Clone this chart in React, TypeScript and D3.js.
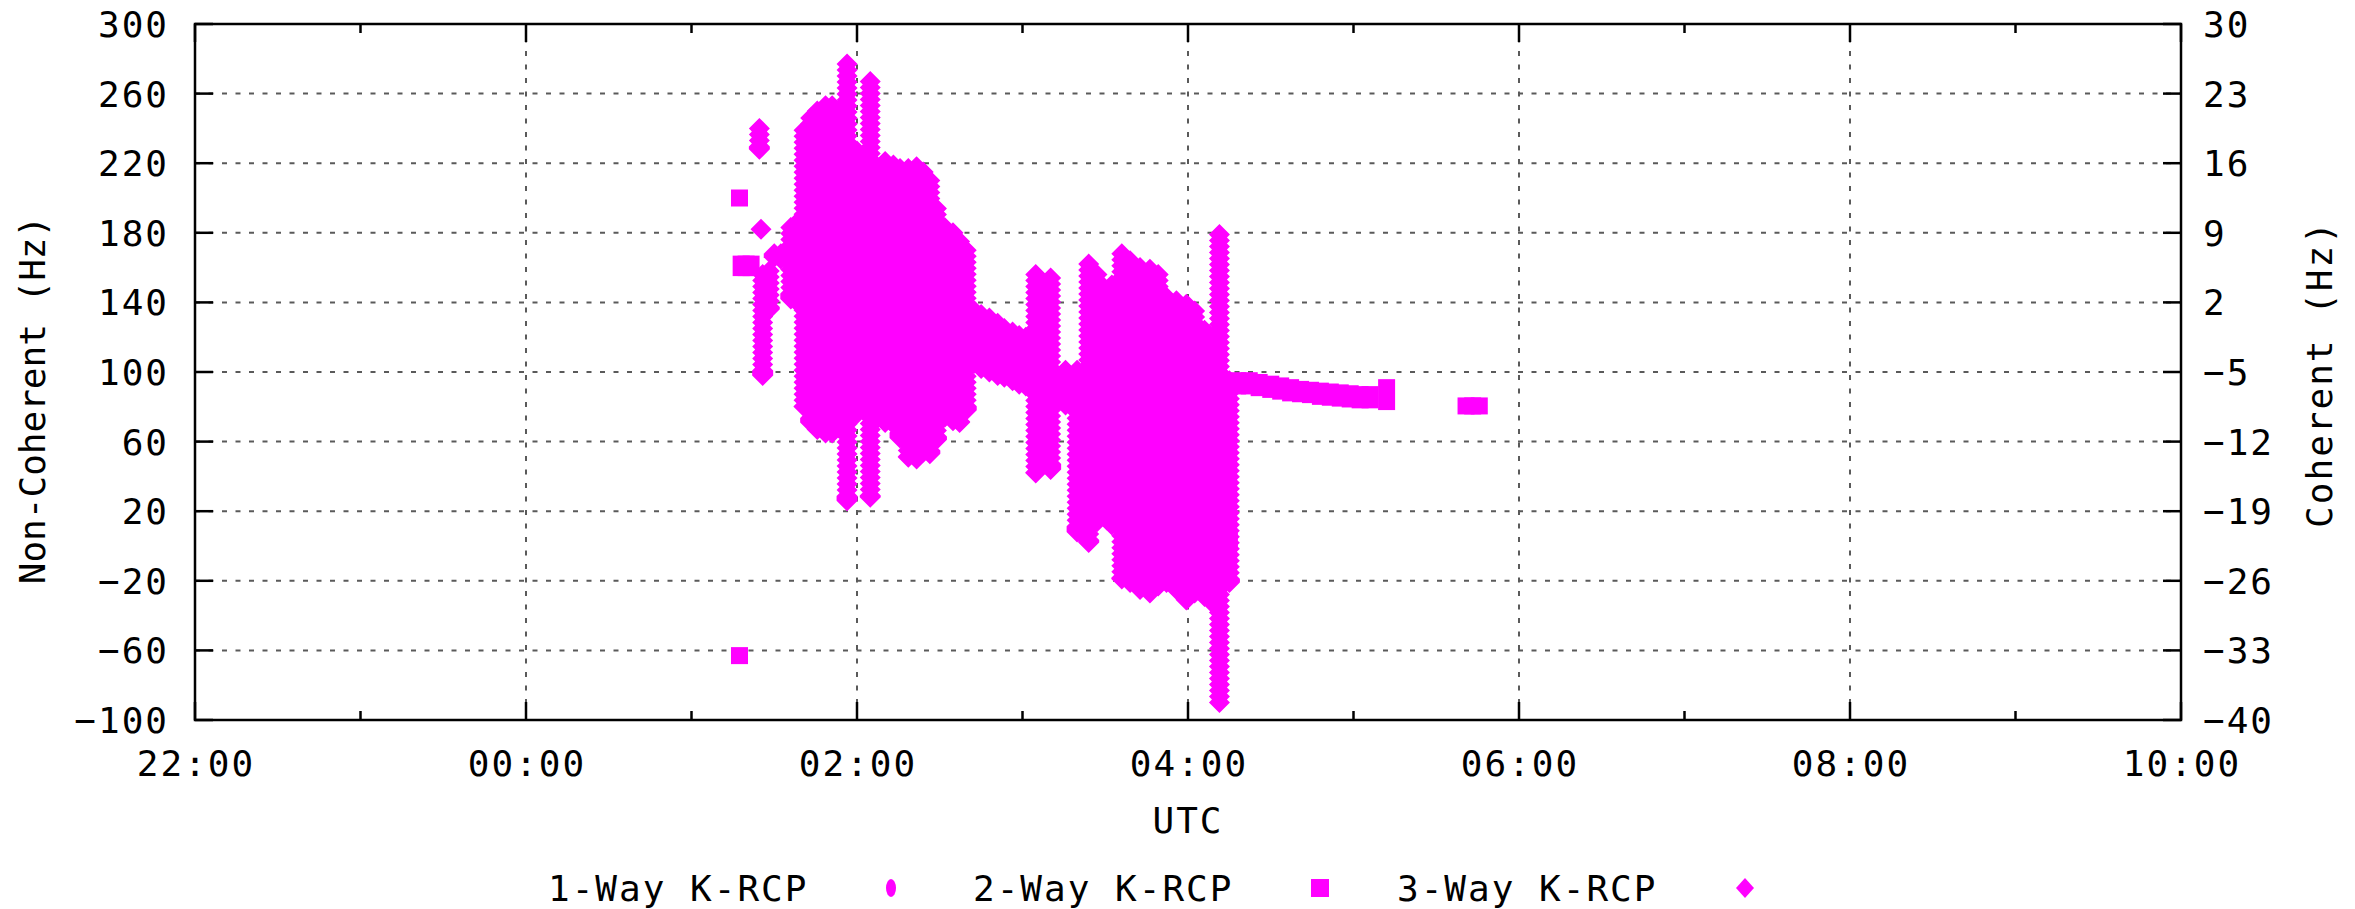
import React from 'react';
import * as d3 from 'd3';

const W = 2355;
const H = 909;
const PLOT = { left: 195, right: 2181, top: 24, bottom: 720 };
const MAGENTA = '#ff00ff';
const FONT = '"DejaVu Sans Mono", monospace';

// axes
const xDomain = [-2, 10]; // hours relative to 00:00 UTC
const xTickHours = [-2, 0, 2, 4, 6, 8, 10];
const xTickLabels = ['22:00', '00:00', '02:00', '04:00', '06:00', '08:00', '10:00'];
const xMinorHours = [-1, 1, 3, 5, 7, 9];
const yLeftTicks = [300, 260, 220, 180, 140, 100, 60, 20, -20, -60, -100];
const yRightTicks = [30, 23, 16, 9, 2, -5, -12, -19, -26, -33, -40];

const seriesNames = ['1-Way K-RCP', '2-Way K-RCP', '3-Way K-RCP'];

// 1-Way K-RCP (no visible samples)
const oneWayHours: number[] = [];
const oneWayHz: number[] = [];

// 2-Way K-RCP: time (h UTC), low / high Non-Coherent value (Hz) of the stacked squares
const twoWayHours = [1.29, 1.30, 1.33, 1.36, 1.29, 4.25, 4.30, 4.37, 4.43, 4.50, 4.56, 4.62, 4.68, 4.74, 4.80, 4.86, 4.92, 4.98, 5.04, 5.10, 5.20, 5.68, 5.72, 5.76];
const twoWayLow = [200, 160, 160, 160, -63, 3, 92, 92, 91, 90, 89, 88, 87.5, 87, 86, 85.5, 85, 84.5, 84, 84, 83, 80.5, 80.5, 80.5];
const twoWayHigh = [200, 162, 162, 162, -63, 3, 95, 95, 94, 93, 92, 91, 90, 89.5, 89, 88.5, 88, 87.5, 87, 87, 91, 80.5, 80.5, 80.5];

// 3-Way K-RCP: time (h UTC), low / high Non-Coherent value (Hz) of the stacked diamonds
const threeWayHours = [1.41, 1.42, 1.43, 1.47, 1.50, 1.54, 1.60, 1.64, 1.68, 1.72, 1.76, 1.81, 1.85, 1.89, 1.94, 2.00, 2.08, 2.12, 2.17, 2.22, 2.26, 2.31, 2.36, 2.40, 2.44, 2.48, 2.53, 2.58, 2.62, 2.66, 2.71, 2.75, 2.80, 2.85, 2.89, 2.94, 2.98, 3.02, 3.08, 3.17, 3.26, 3.33, 3.40, 3.45, 3.51, 3.54, 3.60, 3.65, 3.71, 3.77, 3.82, 3.87, 3.93, 3.99, 4.04, 4.10, 4.15, 4.19, 4.25];
const threeWayLow = [228, 182, 98, 136, 166, 165, 142, 140, 80, 71, 67, 65, 65, 68, 26, 76, 28, 73, 71, 70, 62, 51, 50, 54, 53, 61, 74, 72, 71, 78, 105, 102, 100, 98, 97, 95, 93, 92, 42, 44, 81, 8, 2, 14, 15, 12, -19, -21, -25, -27, -23, -21, -25, -31, -27, -29, -33, -90, -21];
const threeWayHigh = [240, 182, 156, 158, 168, 168, 183, 186, 239, 246, 250, 253, 253, 250, 277, 227, 267, 216, 221, 219, 217, 217, 218, 215, 210, 194, 183, 180, 175, 170, 135, 133, 131, 128, 125, 123, 121, 120, 156, 154, 101, 101, 162, 156, 145, 150, 168, 164, 160, 159, 156, 143, 141, 139, 135, 124, 118, 179, 95];

const SQ = 8.5; // half size of square marker
const DW = 10.5; // half width of diamond marker
const DH = 10.5; // half height of diamond marker
const STACK = 6; // vertical pitch of stacked diamond outline (px)

export default function App() {
  const x = d3.scaleLinear().domain(xDomain).range([PLOT.left, PLOT.right]);
  const yL = d3.scaleLinear().domain([-100, 300]).range([PLOT.bottom, PLOT.top]);
  const yR = d3.scaleLinear().domain([-40, 30]).range([PLOT.bottom, PLOT.top]);

  // outline of a column of diamonds from value lo to value hi
  const diamondColumn = (t: number, lo: number, hi: number) => {
    const cx = x(t);
    const yt = yL(hi);
    const yb = yL(lo);
    const notch = (STACK / 2) * (DW / DH);
    const p = d3.path();
    p.moveTo(cx, yt - DH);
    p.lineTo(cx + DW, yt);
    const n = Math.max(0, Math.floor((yb - yt) / STACK));
    for (let k = 0; k < n; k++) {
      p.lineTo(cx + DW - notch, yt + k * STACK + STACK / 2);
      p.lineTo(cx + DW, yt + (k + 1) * STACK);
    }
    p.lineTo(cx + DW, yb);
    p.lineTo(cx, yb + DH);
    p.lineTo(cx - DW, yb);
    for (let k = n - 1; k >= 0; k--) {
      p.lineTo(cx - DW, yt + (k + 1) * STACK);
      p.lineTo(cx - DW + notch, yt + k * STACK + STACK / 2);
    }
    p.lineTo(cx - DW, yt);
    p.closePath();
    return p.toString();
  };

  const gridColor = '#5a5a5a';
  const dash = '5,8.5';
  const fs = 36;
  const ls = 2;

  const legendY = 888;
  const legendItems = [
    { text: seriesNames[0], tx: 548, mx: 891, kind: 'circle' },
    { text: seriesNames[1], tx: 973, mx: 1320, kind: 'square' },
    { text: seriesNames[2], tx: 1397, mx: 1745, kind: 'diamond' },
  ];

  return (
    <svg width={W} height={H} style={{ position: 'absolute', left: 0, top: 0, background: '#fff' }}>
      <rect x={0} y={0} width={W} height={H} fill="#fff" />
      {/* grid */}
      <g stroke={gridColor} strokeWidth={2} strokeDasharray={dash}>
        {yLeftTicks.slice(1, -1).map((v) => (
          <line key={'gy' + v} x1={PLOT.left} x2={PLOT.right} y1={yL(v)} y2={yL(v)} />
        ))}
        {xTickHours.slice(1, -1).map((h) => (
          <line key={'gx' + h} x1={x(h)} x2={x(h)} y1={PLOT.top} y2={PLOT.bottom} />
        ))}
      </g>

      {/* data */}
      <g fill={MAGENTA}>
        {oneWayHours.map((t, i) => (
          <ellipse key={'o' + i} cx={x(t)} cy={yL(oneWayHz[i])} rx={5} ry={8} />
        ))}
        {threeWayHours.map((t, i) => (
          <path key={'d' + i} d={diamondColumn(t, threeWayLow[i], threeWayHigh[i])} />
        ))}
        {twoWayHours.map((t, i) => (
          <rect
            key={'s' + i}
            x={x(t) - SQ}
            y={yL(twoWayHigh[i]) - SQ}
            width={2 * SQ}
            height={yL(twoWayLow[i]) - yL(twoWayHigh[i]) + 2 * SQ}
          />
        ))}
      </g>

      {/* border */}
      <rect x={PLOT.left} y={PLOT.top} width={PLOT.right - PLOT.left} height={PLOT.bottom - PLOT.top} fill="none" stroke="#000" strokeWidth={2.5} />

      {/* ticks */}
      <g stroke="#000" strokeWidth={2.5}>
        {yLeftTicks.map((v) => (
          <line key={'tl' + v} x1={PLOT.left} x2={PLOT.left + 18} y1={yL(v)} y2={yL(v)} />
        ))}
        {yRightTicks.map((v) => (
          <line key={'tr' + v} x1={PLOT.right - 18} x2={PLOT.right} y1={yR(v)} y2={yR(v)} />
        ))}
        {xTickHours.map((h) => (
          <g key={'tx' + h}>
            <line x1={x(h)} x2={x(h)} y1={PLOT.bottom} y2={PLOT.bottom - 18} />
            <line x1={x(h)} x2={x(h)} y1={PLOT.top} y2={PLOT.top + 18} />
          </g>
        ))}
        {xMinorHours.map((h) => (
          <g key={'mx' + h}>
            <line x1={x(h)} x2={x(h)} y1={PLOT.bottom} y2={PLOT.bottom - 9} />
            <line x1={x(h)} x2={x(h)} y1={PLOT.top} y2={PLOT.top + 9} />
          </g>
        ))}
      </g>

      {/* tick labels */}
      <g fontFamily={FONT} fontSize={fs} fill="#000" letterSpacing={ls}>
        {yLeftTicks.map((v) => (
          <text key={'ll' + v} x={167 + ls} y={yL(v) + 13} textAnchor="end">
            {String(v).replace('-', '\u2212')}
          </text>
        ))}
        {yRightTicks.map((v) => (
          <text key={'rl' + v} x={2203} y={yR(v) + 13} textAnchor="start">
            {String(v).replace('-', '\u2212')}
          </text>
        ))}
        {xTickHours.map((h, i) => (
          <text key={'xl' + h} x={x(h) + ls / 2} y={776} textAnchor="middle">
            {xTickLabels[i]}
          </text>
        ))}
        <text x={(PLOT.left + PLOT.right) / 2} y={833} textAnchor="middle">UTC</text>
        <text transform={`translate(45, 400) rotate(-90)`} textAnchor="middle" letterSpacing={0}>
          Non-Coherent (Hz)
        </text>
        <text transform={`translate(2332, ${(PLOT.top + PLOT.bottom) / 2 + 2}) rotate(-90)`} textAnchor="middle">
          Coherent (Hz)
        </text>
      </g>

      {/* legend */}
      <g fontFamily={FONT} fontSize={fs} letterSpacing={ls}>
        {legendItems.map((it) => (
          <g key={it.text}>
            <text x={it.tx} y={legendY + 13} fill="#000">{it.text}</text>
            {it.kind === 'circle' && <ellipse cx={it.mx} cy={legendY} rx={5} ry={9} fill={MAGENTA} />}
            {it.kind === 'square' && <rect x={it.mx - 9} y={legendY - 9} width={18} height={18} fill={MAGENTA} />}
            {it.kind === 'diamond' && (
              <path d={`M${it.mx},${legendY - 10}L${it.mx + 9},${legendY}L${it.mx},${legendY + 10}L${it.mx - 9},${legendY}Z`} fill={MAGENTA} />
            )}
          </g>
        ))}
      </g>
    </svg>
  );
}
